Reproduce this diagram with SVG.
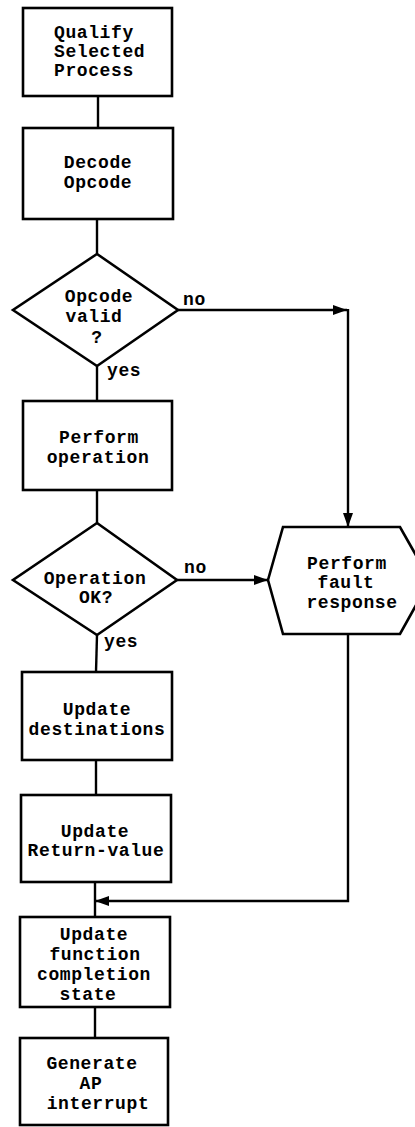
<svg xmlns="http://www.w3.org/2000/svg" width="415" height="1127" viewBox="0 0 415 1127">
<style>
.n{fill:#fff;stroke:#000;stroke-width:2.6;stroke-linejoin:miter}
.c{fill:none;stroke:#000;stroke-width:2.4}
.t{font-family:"Liberation Mono","Courier New",monospace;font-weight:bold;font-size:18px;letter-spacing:0.6px;fill:#000;text-anchor:middle}
.l{text-anchor:start}
</style>
<defs>
<marker id="ah" markerUnits="userSpaceOnUse" markerWidth="14" markerHeight="10" refX="14" refY="5" orient="auto">
<path d="M0,0 L14,5 L0,10 z" fill="#000"/>
</marker>
</defs>
<rect width="415" height="1127" fill="#fff"/>
<g id="connectors">
<path class="c" d="M98,96 V128"/>
<path class="c" d="M97,219 V254"/>
<path class="c" d="M97,366 V401"/>
<path class="c" d="M97,490 V523"/>
<path class="c" d="M97,635 L96,672"/>
<path class="c" d="M96,760 V795"/>
<path class="c" d="M95,882 V917"/>
<path class="c" d="M95,1007 V1038"/>
<path class="c" d="M178,310 H347" marker-end="url(#ah)"/>
<path class="c" d="M348,309 V527" marker-end="url(#ah)"/>
<path class="c" d="M177,580 H268" stroke-width="3.6" marker-end="url(#ah)"/>
<path class="c" d="M348,634 V901 H95" marker-end="url(#ah)"/>
<text class="t l" x="183" y="305">no</text>
<text class="t l" x="107" y="376">yes</text>
<text class="t l" x="184" y="573">no</text>
<text class="t l" x="104" y="647">yes</text>
</g>
<g id="qualify">
<rect class="n" x="23" y="8" width="149" height="88"/>
<text class="t l" x="54" y="38">Qualify</text>
<text class="t l" x="54" y="57">Selected</text>
<text class="t l" x="54" y="76">Process</text>
</g>
<g id="decode">
<rect class="n" x="23" y="128" width="150" height="91"/>
<text class="t" x="98" y="168">Decode</text>
<text class="t" x="98" y="188">Opcode</text>
</g>
<g id="opcode-valid">
<polygon class="n" points="97,254 178,310 97,366 13,310"/>
<text class="t" x="99" y="302">Opcode</text>
<text class="t" x="94" y="322">valid</text>
<text class="t" x="97" y="343">?</text>
</g>
<g id="perform-operation">
<rect class="n" x="23" y="401" width="149" height="89"/>
<text class="t" x="99" y="443">Perform</text>
<text class="t" x="98" y="463">operation</text>
</g>
<g id="operation-ok">
<polygon class="n" points="97,523 177,580 97,635 13,580"/>
<text class="t" x="95" y="584">Operation</text>
<text class="t" x="96" y="603">OK?</text>
</g>
<g id="fault-response">
<polygon class="n" points="268,580 283,527 400,527 430,580 400,634 283,634"/>
<text class="t" x="347" y="569">Perform</text>
<text class="t" x="346" y="588">fault</text>
<text class="t" x="352" y="608">response</text>
</g>
<g id="update-destinations">
<rect class="n" x="22" y="672" width="150" height="88"/>
<text class="t" x="97" y="715">Update</text>
<text class="t" x="97" y="735">destinations</text>
</g>
<g id="update-return">
<rect class="n" x="21" y="795" width="150" height="87"/>
<text class="t" x="95" y="837">Update</text>
<text class="t" x="96" y="856">Return-value</text>
</g>
<g id="update-completion">
<rect class="n" x="20" y="917" width="150" height="90"/>
<text class="t" x="94" y="940">Update</text>
<text class="t" x="95" y="960">function</text>
<text class="t" x="94" y="980">completion</text>
<text class="t" x="88" y="1000">state</text>
</g>
<g id="generate-interrupt">
<rect class="n" x="20" y="1038" width="148" height="87"/>
<text class="t" x="92" y="1069">Generate</text>
<text class="t" x="91" y="1089">AP</text>
<text class="t" x="98" y="1109">interrupt</text>
</g>
</svg>
